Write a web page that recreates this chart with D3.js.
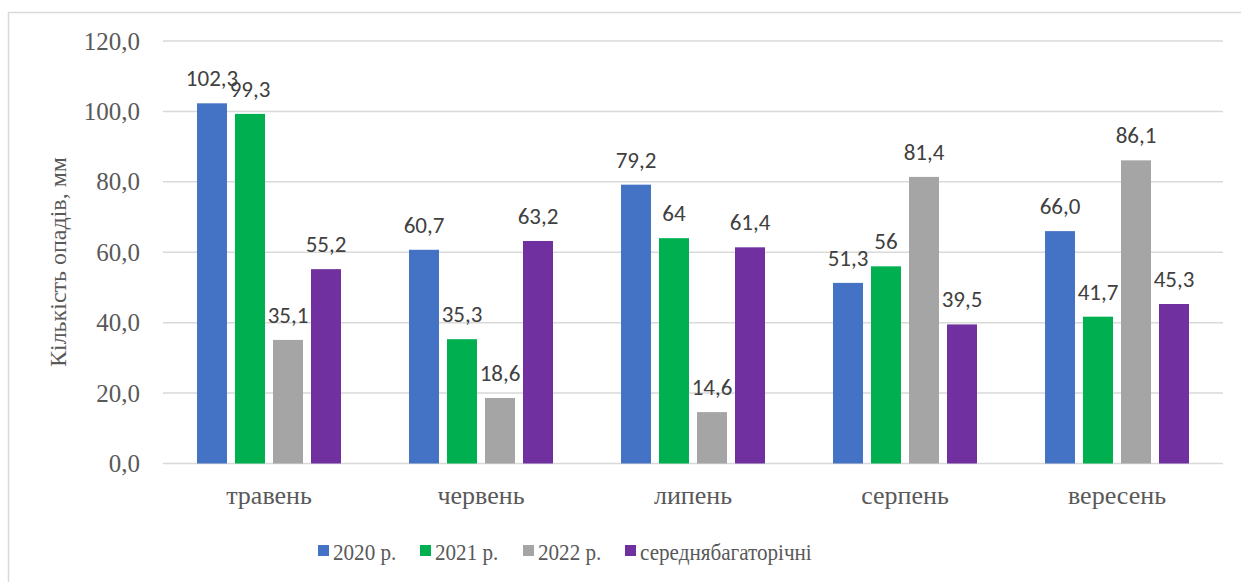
<!DOCTYPE html>
<html><head><meta charset="utf-8">
<script src="https://cdn.jsdelivr.net/npm/d3@7"></script>
<style>body{margin:0;background:#fff}svg{display:block}</style>
</head><body>
<script>
const categories = ["травень","червень","липень","серпень","вересень"];
const seriesNames = ["2020 р.","2021 р.","2022 р.","середнябагаторічні"];
const s2020 = [102.3, 60.7, 79.2, 51.3, 66.0];
const s2021 = [99.3, 35.3, 64, 56, 41.7];
const s2022 = [35.1, 18.6, 14.6, 81.4, 86.1];
const sAvg = [55.2, 63.2, 61.4, 39.5, 45.3];
const label2020 = ["102,3","60,7","79,2","51,3","66,0"];
const label2021 = ["99,3","35,3","64","56","41,7"];
const label2022 = ["35,1","18,6","14,6","81,4","86,1"];
const labelAvg = ["55,2","63,2","61,4","39,5","45,3"];
const yTicks = [0,20,40,60,80,100,120];
const colors = ["#4472C4","#00B050","#A5A5A5","#7030A0"];

const values = [s2020, s2021, s2022, sAvg];
const labels = [label2020, label2021, label2022, labelAvg];

const W = 1241, H = 582;
const serif = '"Liberation Serif", "Times New Roman", serif';
const sans = 'Carlito, "Liberation Sans", sans-serif';

const svg = d3.select("body").append("svg").attr("width", W).attr("height", H);
svg.append("rect").attr("x",8.5).attr("y",12.5).attr("width",1240).attr("height",580)
  .attr("fill","#fff").attr("stroke","#d9d9d9").attr("stroke-width",1.5);

const pLeft = 163, pRight = 1223, pTop = 41, pBottom = 463.5;
const y = d3.scaleLinear().domain([0,120]).range([pBottom, pTop]);
const x0 = d3.scaleBand().domain(categories).range([pLeft, pRight]).padding(0);
const x1 = d3.scaleBand().domain(seriesNames).range([34, 178]).paddingInner(8/38).paddingOuter(0);

// grid
svg.append("g").selectAll("line").data(yTicks).join("line")
  .attr("x1", pLeft).attr("x2", pRight)
  .attr("y1", d => y(d)).attr("y2", d => y(d))
  .attr("stroke", "#d9d9d9").attr("stroke-width", 1.5);

// y tick labels
svg.append("g").selectAll("text").data(yTicks).join("text")
  .style("font-family", serif).style("font-size", "25px")
  .attr("x", 140).attr("y", d => y(d)).attr("dy","0.34em")
  .attr("text-anchor","end")
  .attr("fill","#595959").text(d => d3.format(".1f")(d).replace(".", ","));

// y title
svg.append("text")
  .style("font-family", serif).style("font-size", "24px")
  .attr("transform", `translate(66,262) rotate(-90)`)
  .attr("text-anchor","middle")
  .attr("fill","#595959").text("Кількість опадів, мм");

// bars
const groups = svg.append("g").selectAll("g").data(categories).join("g")
  .attr("transform", c => `translate(${x0(c)},0)`);
seriesNames.forEach((s, si) => {
  groups.append("rect")
    .attr("x", x1(s)).attr("width", x1.bandwidth())
    .attr("y", (c, ci) => y(values[si][ci]))
    .attr("height", (c, ci) => y(0) - y(values[si][ci]))
    .attr("fill", colors[si]);
});
seriesNames.forEach((s, si) => {
  groups.append("text")
    .style("font-family", sans).style("font-size", "23px")
    .attr("x", x1(s) + x1.bandwidth()/2)
    .attr("y", (c, ci) => y(values[si][ci]) - 17)
    .attr("text-anchor","middle")
    .attr("fill","#404040").text((c, ci) => labels[si][ci]);
});

// x labels
svg.append("g").selectAll("text").data(categories).join("text")
  .style("font-family", serif).style("font-size", "26px")
  .attr("x", c => x0(c) + x0.bandwidth()/2).attr("y", 504)
  .attr("text-anchor","middle")
  .attr("fill","#595959").text(c => c);

// legend
const legendX = [318, 420, 523, 625];
const lg = svg.append("g").selectAll("g").data(seriesNames).join("g")
  .attr("transform", (d,i) => `translate(${legendX[i]},545)`);
lg.append("rect").attr("x",0).attr("y",0).attr("width",11).attr("height",11)
  .attr("fill", (d,i) => colors[i]);
lg.append("text").style("font-family", serif).style("font-size", "24px")
  .attr("transform","translate(15,14.5) scale(0.88,1)")
  .attr("fill","#595959").text(d => d);
</script>
</body></html>
